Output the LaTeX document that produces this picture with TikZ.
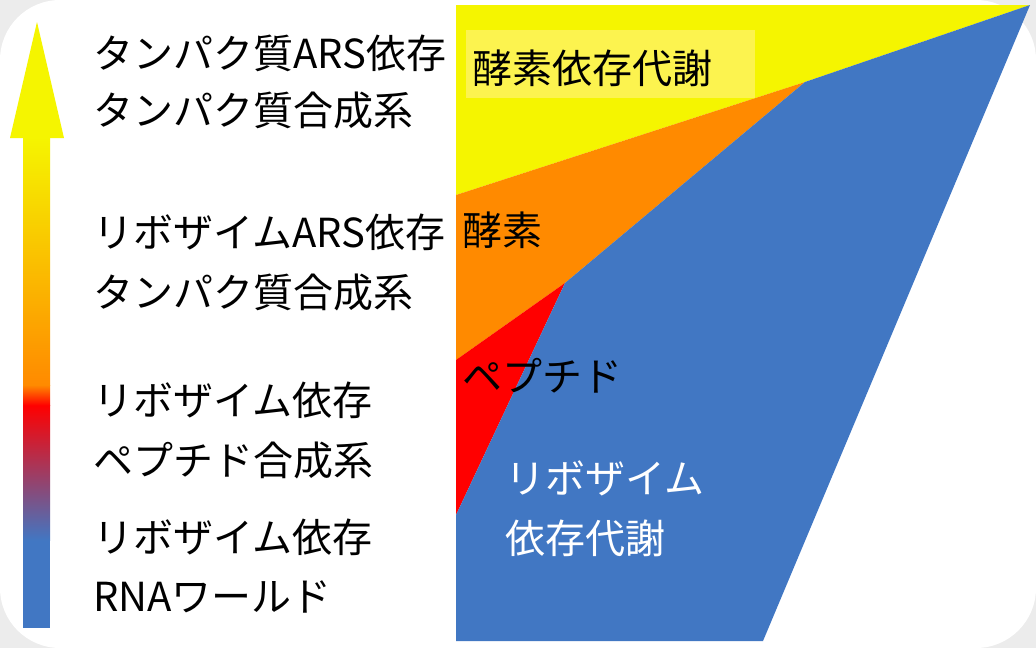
\documentclass[tikz,border=0pt]{standalone}
\usepackage{fontspec}
\setmainfont{Noto Sans CJK JP}
\begin{document}
\begin{tikzpicture}[x=1pt,y=-1pt,
  lbl/.style={anchor=west,font=\fontsize{40}{46}\selectfont,align=left,inner sep=0pt},
  lblw/.style={lbl,text=white}]
\definecolor{bl}{HTML}{4177C3}
\definecolor{yl}{HTML}{F5F500}
\definecolor{og}{HTML}{FF8A00}
\definecolor{rd}{HTML}{FF0000}
\fill[gray!15] (0,0) rectangle (1036,648);
\fill[white,rounded corners=60] (0,0) rectangle (1036,648);
\useasboundingbox (0,0) rectangle (1036,648);
% regions
\fill[yl] (456,5) -- (1030,5) -- (805,82) -- (456,195) -- cycle;
\fill[og] (456,195) -- (805,82) -- (565,283) -- (456,360) -- cycle;
\fill[rd] (456,360) -- (565,283) -- (456,515) -- cycle;
\fill[bl] (456,515) -- (565,283) -- (805,82) -- (1030,5) -- (763,641) -- (456,641) -- cycle;
\fill[yellow!55!yl!70!white] (466,30) rectangle (755,98);
% arrow
\fill[bl] (23,540) rectangle (50,628);
\shade[top color=rd,bottom color=bl] (23,405) rectangle (50,540.5);
\shade[top color=og,bottom color=rd] (23,385) rectangle (50,405.5);
\shade[top color=yl,bottom color=og] (23,137) rectangle (50,385.5);
\fill[yl] (37,22) -- (64,138) -- (10,138) -- cycle;
% labels
\node[lbl] (t1) at (93,53) {タンパク質ARS依存};
\node[lbl] (t2) at (93,110) {タンパク質合成系};
\node[lbl] (t3) at (93,232) {リボザイムARS依存};
\node[lbl] (t4) at (93,292) {タンパク質合成系};
\node[lbl] (t5) at (93,400) {リボザイム依存};
\node[lbl] (t6) at (93,460) {ペプチド合成系};
\node[lbl] (t7) at (93,537) {リボザイム依存};
\node[lbl] (t8) at (93,597) {RNAワールド};
\node[lbl] (r1) at (472,68) {酵素依存代謝};
\node[lbl] (r2) at (462,230) {酵素};
\node[lbl] (r3) at (462,376) {ペプチド};
\node[lblw] (r4) at (505,478) {リボザイム};
\node[lblw] (r5) at (505,538) {依存代謝};
\end{tikzpicture}
\end{document}
